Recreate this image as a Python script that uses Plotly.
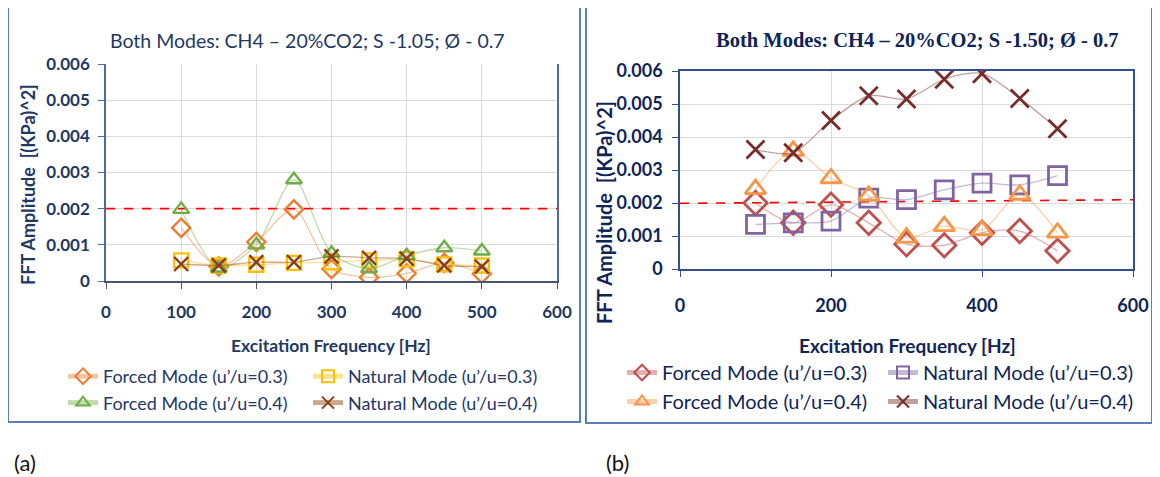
# FFT amplitude vs excitation frequency, two panels (a) and (b).

import plotly.graph_objects as go

W, H = 1160, 477
BODY = 8  # default page margin around the plot div

FREQ = [100, 150, 200, 250, 300, 350, 400, 450, 500]

# (a) CH4-20%CO2, S 1.05
A_FORCED_03 = [0.00147, 0.0004, 0.00108, 0.00198, 0.00033, 0.0001, 0.00021, 0.0005, 0.0002]
A_NATURAL_03 = [0.00057, 0.00043, 0.00045, 0.0005, 0.00052, 0.00057, 0.0006, 0.00046, 0.00043]
A_FORCED_04 = [0.00198, 0.00036, 0.001, 0.0028, 0.00077, 0.00034, 0.0007, 0.00092, 0.00083]
A_NATURAL_04 = [0.00047, 0.00043, 0.00052, 0.00052, 0.00068, 0.00064, 0.00062, 0.00043, 0.0004]

# (b) CH4-20%CO2, S 1.50
B_FORCED_03 = [0.002, 0.0014, 0.00195, 0.0014, 0.00075, 0.00072, 0.0011, 0.00115, 0.00055]
B_NATURAL_03 = [0.00135, 0.0014, 0.00145, 0.00215, 0.0021, 0.0024, 0.0026, 0.00255, 0.00283]
B_FORCED_04 = [0.00242, 0.00358, 0.00275, 0.00222, 0.00095, 0.0013, 0.00118, 0.00225, 0.0011]
B_NATURAL_04 = [0.00362, 0.00352, 0.0045, 0.00525, 0.00515, 0.00575, 0.00592, 0.00517, 0.00425]

# red dashed reference line
THRESH_X = [0, 600]
A_THRESH = [0.002, 0.002]
B_THRESH = [0.00199, 0.0021]

NAMES = [
    "Forced Mode (u’/u=0.3)",
    "Natural Mode (u’/u=0.3)",
    "Forced Mode (u’/u=0.4)",
    "Natural Mode (u’/u=0.4)",
]

NAVY = "#1F3864"
NAVY_DARK = "#0F2457"


def px(x):
    return (x - BODY) / W


def py(y):
    return 1 - (y - BODY) / H


def rgba(hex_color, a):
    h = hex_color.lstrip("#")
    r, g, b = int(h[0:2], 16), int(h[2:4], 16), int(h[4:6], 16)
    return f"rgba({r},{g},{b},{a})"


fig = go.Figure()

panels = [
    dict(
        series=[A_FORCED_03, A_NATURAL_03, A_FORCED_04, A_NATURAL_04],
        colors=["#ED7D31", "#FFC000", "#70AD47", "#8B3F10"],
        thresh=A_THRESH, xa="x", ya="y", legend="legend", tag="a", size=14, lw=2.4,
    ),
    dict(
        series=[B_FORCED_03, B_NATURAL_03, B_FORCED_04, B_NATURAL_04],
        colors=["#C0504D", "#8064A2", "#F79646", "#772C2A"],
        thresh=B_THRESH, xa="x2", ya="y2", legend="legend2", tag="b", size=18, lw=2.8,
    ),
]
symbols = ["diamond-open", "square-open", "triangle-up-open", "x-thin"]
groups = ["forced", "natural", "forced", "natural"]

for p in panels:
    fig.add_trace(go.Scatter(
        x=THRESH_X, y=p["thresh"], mode="lines", xaxis=p["xa"], yaxis=p["ya"],
        line=dict(color="#FF0000", width=1.6, dash="dash"), showlegend=False, hoverinfo="skip",
    ))
    for vals, name, col, sym, grp in zip(p["series"], NAMES, p["colors"], symbols, groups):
        fig.add_trace(go.Scatter(
            x=FREQ, y=vals, name=name, mode="lines+markers",
            xaxis=p["xa"], yaxis=p["ya"], legend=p["legend"],
            legendgroup=p["tag"] + grp,
            line=dict(color=rgba(col, 0.45), width=1.3, shape="spline", smoothing=0.8),
            marker=dict(symbol=sym, size=p["size"], color=col,
                        line=dict(color=col, width=p["lw"])),
        ))

axis_font_a = dict(family="Lato", size=17, color=NAVY, weight="bold")
axis_font_b = dict(family="Lato", size=18, color=NAVY_DARK, weight="bold")

common = dict(showgrid=True, gridcolor="#DADADA", zeroline=False, automargin=False,
              showline=True, linewidth=1.5, ticks="outside", ticklen=6)

fig.update_layout(
    width=W, height=H,
    margin=dict(l=0, r=0, t=0, b=0, autoexpand=False),
    paper_bgcolor="white", plot_bgcolor="white",
    font=dict(family="Lato", color=NAVY),
    xaxis=dict(common, domain=[px(106), px(557)], range=[0, 600], dtick=100, anchor="y",
               linecolor="#4A5572", tickcolor="#4A5572",
               tickfont=axis_font_a, ticklabelstandoff=9),
    yaxis=dict(common, domain=[py(281), py(64)], range=[0, 0.006], dtick=0.001, anchor="x",
               linecolor="#4F6A9E", mirror=True, tickcolor="#4F6A9E",
               tickfont=axis_font_a, ticklabelstandoff=5),
    xaxis2=dict(common, domain=[px(680), px(1133)], range=[0, 600], dtick=200, anchor="y2",
                linecolor="#34508A", mirror=True, tickcolor="#34508A",
                tickfont=axis_font_b, ticklabelstandoff=14),
    yaxis2=dict(common, domain=[py(269), py(71)], range=[0, 0.006], dtick=0.001, anchor="x2",
                linecolor="#34508A", mirror=True, tickcolor="#34508A",
                tickfont=axis_font_b, ticklabelstandoff=6),
    legend=dict(orientation="h", traceorder="grouped", xref="paper", yref="paper",
                x=px(63), y=py(358), xanchor="left", yanchor="top",
                entrywidth=200, itemsizing="constant", bgcolor="rgba(0,0,0,0)",
                font=dict(family="Lato", size=18, color=NAVY)),
    legend2=dict(orientation="h", traceorder="grouped", xref="paper", yref="paper",
                 x=px(622), y=py(353), xanchor="left", yanchor="top",
                 entrywidth=216, itemsizing="constant", bgcolor="rgba(0,0,0,0)",
                 font=dict(family="Lato", size=20, color=NAVY_DARK)),
)

# panel frames
for x0, x1, y1 in [(8, 580, 422), (586, 1152, 423)]:
    fig.add_shape(type="rect", xref="paper", yref="paper",
                  x0=px(x0), x1=px(x1), y0=py(y1), y1=py(7),
                  line=dict(color="#5B7FBA", width=2), fillcolor="rgba(0,0,0,0)")

texts = [
    # x, y, text, font, angle
    (307, 40, "Both Modes: CH4 – 20%CO2; S -1.05; Ø - 0.7",
     dict(family="Lato", size=19.5, color=NAVY), 0),
    (917, 40, "<b>Both Modes: CH4 – 20%CO2; S -1.50; Ø - 0.7</b>",
     dict(family="Liberation Serif", size=20.5, color=NAVY_DARK), 0),
    (331, 345, "<b>Excitation Frequency [Hz]</b>",
     dict(family="Lato", size=17.5, color=NAVY), 0),
    (907, 345, "<b>Excitation Frequency [Hz]</b>",
     dict(family="Lato", size=19, color=NAVY_DARK), 0),
    (28, 185, "<b>FFT Amplitude  [(KPa)^2]</b>",
     dict(family="Lato", size=18, color=NAVY), -90),
    (604, 213, "<b>FFT Amplitude  [(KPa)^2]</b>",
     dict(family="Lato", size=20, color=NAVY_DARK), -90),
    (25, 462, "(a)", dict(family="Lato", size=22, color="#111111"), 0),
    (617, 462, "(b)", dict(family="Lato", size=22, color="#111111"), 0),
]
for x, y, t, f, ang in texts:
    fig.add_annotation(x=px(x), y=py(y), xref="paper", yref="paper", text=t,
                       showarrow=False, font=f, textangle=ang,
                       xanchor="center", yanchor="middle")

fig.write_html("out.html")
